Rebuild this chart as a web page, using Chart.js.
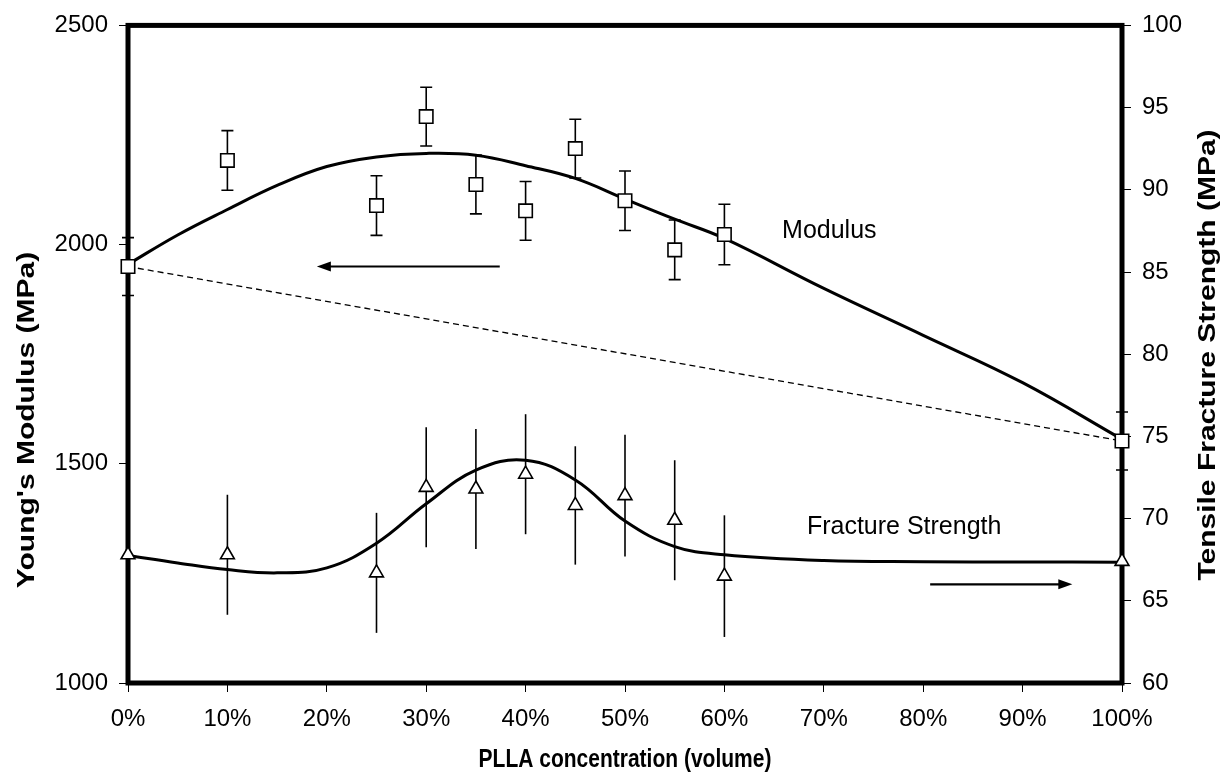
<!DOCTYPE html>
<html>
<head>
<meta charset="utf-8">
<script src="https://cdn.jsdelivr.net/npm/chart.js@4/dist/chart.umd.min.js"></script>
<style>
  html, body { margin: 0; padding: 0; background: #fff; }
  #wrap { width: 1231px; height: 781px; }
</style>
</head>
<body>
<div id="wrap"><canvas id="c" width="1231" height="781"></canvas></div>
<script>
// PLLA volume fraction (%) of each blend tested
const concentration = [0, 10, 25, 30, 35, 40, 45, 50, 55, 60, 100];

// Young's modulus (MPa) with standard deviation
const modulus    = [1950, 2192, 2089, 2292, 2137, 2077, 2219, 2100, 1988, 2023, 1552];
const modulusErr = [66, 68, 68, 67, 67, 67, 67, 68, 68, 69, 66];

// Tensile fracture strength (MPa) with standard deviation
const strength    = [67.8, 67.8, 66.7, 71.9, 71.8, 72.7, 70.8, 71.4, 69.9, 66.5, 67.4];
const strengthErr = [3.7, 3.65, 3.65, 3.65, 3.65, 3.65, 3.6, 3.7, 3.65, 3.7, 3.7];

// Smoothed trend curves
const fitX        = [0, 5, 10, 15, 20, 25, 30, 35, 40, 45, 50, 55, 60, 70, 80, 90, 100];
const modulusFit  = [1955, 2022, 2080, 2135, 2178, 2200, 2208, 2204, 2180, 2151, 2104, 2058, 2014, 1900, 1793, 1685, 1556];
const strengthFit = [67.75, 67.3, 66.9, 66.7, 67.0, 68.5, 70.9, 72.95, 73.55, 72.35, 69.85, 68.3, 67.8, 67.45, 67.38, 67.36, 67.35];

// Axis ticks
const xTicks = [0, 10, 20, 30, 40, 50, 60, 70, 80, 90, 100];
const modulusTicks = [1000, 1500, 2000, 2500];
const strengthTicks = [60, 65, 70, 75, 80, 85, 90, 95, 100];

const FAMILY = '"Liberation Sans", Arial, Helvetica, sans-serif';
const pts = (xs, ys) => xs.map((x, i) => ({ x: x, y: ys[i] }));

// Thick black frame around the plotting area
const framePlugin = {
  id: 'frame',
  beforeDatasetsDraw(chart) {
    const a = chart.chartArea, ctx = chart.ctx;
    ctx.save();
    ctx.strokeStyle = '#000';
    ctx.lineWidth = 5;
    ctx.strokeRect(a.left, a.top, a.right - a.left, a.bottom - a.top);
    ctx.restore();
  }
};

// Vertical error bars (capped for modulus, plain for strength)
const errorBarPlugin = {
  id: 'errorBars',
  beforeDatasetsDraw(chart) {
    const ctx = chart.ctx;
    const draw = (dsIndex, vals, errs, cap) => {
      const meta = chart.getDatasetMeta(dsIndex);
      const ys = chart.scales[meta.yAxisID];
      const xs = chart.scales.x;
      ctx.save();
      ctx.strokeStyle = '#000';
      ctx.lineWidth = 1.6;
      vals.forEach((v, i) => {
        const x = xs.getPixelForValue(concentration[i]);
        const t = ys.getPixelForValue(v + errs[i]);
        const b = ys.getPixelForValue(v - errs[i]);
        ctx.beginPath();
        ctx.moveTo(x, t); ctx.lineTo(x, b);
        if (cap) {
          ctx.moveTo(x - 6, t); ctx.lineTo(x + 6, t);
          ctx.moveTo(x - 6, b); ctx.lineTo(x + 6, b);
        }
        ctx.stroke();
      });
      ctx.restore();
    };
    draw(0, modulus, modulusErr, true);
    draw(1, strength, strengthErr, false);
  }
};

// Direction arrows, curve labels and the axis titles
const annotationPlugin = {
  id: 'annotations',
  afterDraw(chart) {
    const ctx = chart.ctx, x = chart.scales.x, y = chart.scales.y, y1 = chart.scales.y1;
    const arrow = (x0, x1, py) => {
      const dir = Math.sign(x1 - x0);
      ctx.beginPath();
      ctx.moveTo(x0, py); ctx.lineTo(x1 - dir * 10, py);
      ctx.lineWidth = 2.2; ctx.strokeStyle = '#000'; ctx.stroke();
      ctx.beginPath();
      ctx.moveTo(x1, py);
      ctx.lineTo(x1 - dir * 14, py - 5);
      ctx.lineTo(x1 - dir * 14, py + 5);
      ctx.closePath();
      ctx.fillStyle = '#000'; ctx.fill();
    };
    ctx.save();
    arrow(x.getPixelForValue(37.4), x.getPixelForValue(19.0), y.getPixelForValue(1950));
    arrow(x.getPixelForValue(80.7), x.getPixelForValue(95.0), y1.getPixelForValue(66.0));

    ctx.fillStyle = '#000';
    ctx.font = '25px ' + FAMILY;
    ctx.textAlign = 'left';
    ctx.textBaseline = 'middle';
    ctx.fillText('Modulus', x.getPixelForValue(65.8), y.getPixelForValue(2030));
    ctx.fillText('Fracture Strength', x.getPixelForValue(68.3), y1.getPixelForValue(69.5));

    // Titles use a tall, slightly condensed bold face (vertical screen stretch)
    const vTitle = (text, cx, cy) => {
      ctx.save();
      ctx.translate(cx, cy);
      ctx.rotate(-Math.PI / 2);
      ctx.scale(1.25, 1);
      ctx.font = 'bold 24px ' + FAMILY;
      ctx.textAlign = 'center';
      ctx.textBaseline = 'middle';
      ctx.fillText(text, 0, 0);
      ctx.restore();
    };
    vTitle("Young's Modulus (MPa)", 27, 420);
    vTitle('Tensile Fracture Strength (MPa)', 1208, 355);

    ctx.save();
    ctx.translate((chart.chartArea.left + chart.chartArea.right) / 2, 760);
    ctx.scale(1, 1.25);
    ctx.font = 'bold 21px ' + FAMILY;
    ctx.textAlign = 'center';
    ctx.textBaseline = 'middle';
    ctx.fillText('PLLA concentration (volume)', 0, 0);
    ctx.restore();
    ctx.restore();
  }
};

const tickFont = { family: FAMILY, size: 24 };
const tickGrid = { display: true, drawOnChartArea: false, drawTicks: true, tickLength: 9, color: '#000', lineWidth: 1 };

new Chart(document.getElementById('c'), {
  type: 'scatter',
  data: {
    datasets: [
      {
        label: 'Modulus',
        data: pts(concentration, modulus),
        yAxisID: 'y',
        showLine: false,
        pointStyle: 'rect',
        pointRadius: 9.5,
        pointBackgroundColor: '#fff',
        pointBorderColor: '#000',
        pointBorderWidth: 1.6,
        clip: false,
        order: 1
      },
      {
        label: 'Fracture Strength',
        data: pts(concentration, strength),
        yAxisID: 'y1',
        showLine: false,
        pointStyle: 'triangle',
        pointRadius: 8,
        pointBackgroundColor: '#fff',
        pointBorderColor: '#000',
        pointBorderWidth: 1.6,
        clip: false,
        order: 2
      },
      {
        label: 'Modulus trend',
        data: pts(fitX, modulusFit),
        yAxisID: 'y',
        showLine: true,
        borderColor: '#000',
        borderWidth: 3,
        tension: 0.4,
        pointRadius: 0,
        clip: false,
        order: 3
      },
      {
        label: 'Strength trend',
        data: pts(fitX, strengthFit),
        yAxisID: 'y1',
        showLine: true,
        borderColor: '#000',
        borderWidth: 3,
        tension: 0.4,
        pointRadius: 0,
        clip: false,
        order: 4
      },
      {
        label: 'Rule of mixtures',
        data: [{ x: concentration[0], y: modulus[0] }, { x: concentration[concentration.length - 1], y: modulus[modulus.length - 1] }],
        yAxisID: 'y',
        showLine: true,
        borderColor: '#000',
        borderWidth: 1.3,
        borderDash: [6, 4],
        pointRadius: 0,
        order: 5
      }
    ]
  },
  options: {
    responsive: false,
    animation: false,
    events: [],
    layout: { padding: { top: 23, left: 0, right: 0, bottom: 0 } },
    plugins: { legend: { display: false }, tooltip: { enabled: false } },
    scales: {
      x: {
        type: 'linear',
        min: 0, max: 100,
        afterBuildTicks(s) { s.ticks = xTicks.map(v => ({ value: v })); },
        ticks: { font: tickFont, color: '#000', padding: 13, maxRotation: 0, callback: v => v + '%' },
        grid: tickGrid,
        border: { display: false },
        afterFit(s) { s.height = 98; }
      },
      y: {
        position: 'left',
        min: 1000, max: 2500,
        afterBuildTicks(s) { s.ticks = modulusTicks.map(v => ({ value: v })); },
        ticks: { font: tickFont, color: '#000', padding: 11, callback: v => String(v) },
        grid: tickGrid,
        border: { display: false },
        afterFit(s) { s.width = 128; }
      },
      y1: {
        position: 'right',
        min: 60, max: 100,
        afterBuildTicks(s) { s.ticks = strengthTicks.map(v => ({ value: v })); },
        ticks: { font: tickFont, color: '#000', padding: 11, callback: v => String(v) },
        grid: tickGrid,
        border: { display: false },
        afterFit(s) { s.width = 109; }
      }
    }
  },
  plugins: [framePlugin, errorBarPlugin, annotationPlugin]
});
</script>
</body>
</html>
